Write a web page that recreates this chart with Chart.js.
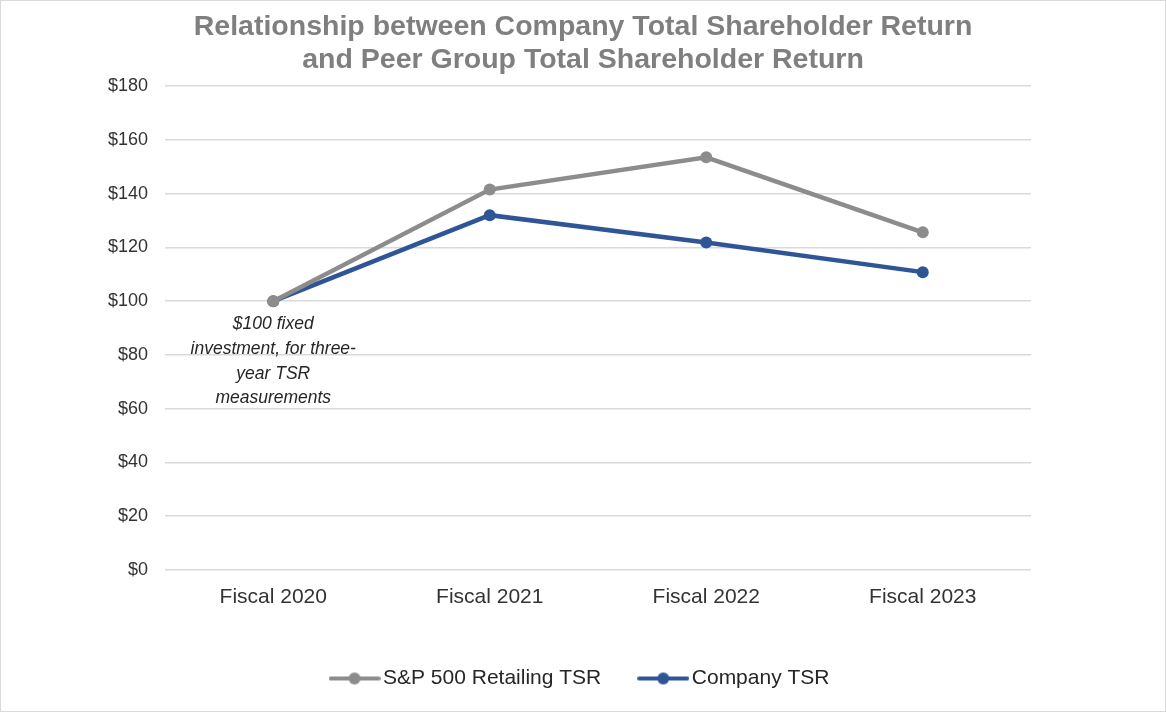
<!DOCTYPE html>
<html>
<head>
<meta charset="utf-8">
<script src="https://cdn.jsdelivr.net/npm/chart.js@4.4.1/dist/chart.umd.min.js"></script>
<style>
  html, body { margin: 0; padding: 0; background: #fff; }
  #wrap { width: 1166px; height: 712px; box-sizing: border-box; border: 1px solid #d9d9d9; }
  canvas { display: block; }
</style>
</head>
<body>
<div id="wrap"><canvas id="tsrChart" width="1164" height="710"></canvas></div>
<script>
const categories = ['Fiscal 2020', 'Fiscal 2021', 'Fiscal 2022', 'Fiscal 2023'];
const retailingTSR = [100, 141.5, 153.5, 125.6];
const companyTSR = [100, 132, 121.8, 110.8];
const titleLines = ['Relationship between Company Total Shareholder Return', 'and Peer Group Total Shareholder Return'];
const noteLines = ['$100 fixed', 'investment, for three-', 'year TSR', 'measurements'];

const grey = '#8c8c8c';
const blue = '#2f5597';
const textColor = '#333333';
const fontFamily = '"Liberation Sans", Arial, sans-serif';

function legendIcon(color) {
    let c = document.createElement('canvas');
    c.width = 52;
    c.height = 14;
    let g = c.getContext('2d');
    g.strokeStyle = color;
    g.lineWidth = 4;
    g.lineCap = 'round';
    g.beginPath();
    g.moveTo(2, 7);
    g.lineTo(50, 7);
    g.stroke();
    g.fillStyle = color;
    g.beginPath();
    g.arc(26, 7, 6, 0, Math.PI * 2);
    g.fill();
    return c;
}
const icons = [legendIcon(grey), legendIcon(blue)];

// italic note under the first point
const notePlugin = {
    id: 'note',
    afterDatasetsDraw(chart) {
        let ctx = chart.ctx;
        let x = chart.scales.x.getPixelForValue(0);
        let y = chart.scales.y.getPixelForValue(100);
        ctx.save();
        ctx.font = 'italic 17.5px ' + fontFamily;
        ctx.fillStyle = '#262626';
        ctx.textAlign = 'center';
        ctx.textBaseline = 'middle';
        noteLines.forEach((line, i) => ctx.fillText(line, x, y + 23 + i * 24.8));
        ctx.restore();
    }
};

let ctx = document.getElementById('tsrChart').getContext('2d');
new Chart(ctx, {
    type: 'line',
    data: {
        labels: categories,
        datasets: [{
            label: 'S&P 500 Retailing TSR',
            data: retailingTSR,
            borderColor: grey,
            backgroundColor: grey,
            borderWidth: 4.5,
            pointRadius: 6,
            pointHoverRadius: 6,
            pointBorderWidth: 0
        }, {
            label: 'Company TSR',
            data: companyTSR,
            borderColor: blue,
            backgroundColor: blue,
            borderWidth: 4.5,
            pointRadius: 6,
            pointHoverRadius: 6,
            pointBorderWidth: 0
        }]
    },
    options: {
        responsive: false,
        animation: false,
        layout: { padding: { left: 0, right: 0, top: 0, bottom: 12 } },
        plugins: {
            tooltip: { enabled: false },
            title: {
                display: true,
                text: titleLines,
                color: '#7f7f7f',
                font: { family: fontFamily, size: 28.5, weight: 'bold', lineHeight: 1.16 },
                padding: { top: 9.5, bottom: 9.5 }
            },
            legend: {
                position: 'bottom',
                labels: {
                    usePointStyle: true,
                    pointStyleWidth: 36,
                    padding: 44,
                    color: '#262626',
                    font: { family: fontFamily, size: 21 },
                    generateLabels(chart) {
                        let items = Chart.defaults.plugins.legend.labels.generateLabels(chart);
                        items.forEach((item, i) => { item.pointStyle = icons[i]; });
                        return items;
                    }
                }
            }
        },
        scales: {
            x: {
                offset: true,
                grid: { display: false, drawTicks: false },
                border: { display: false },
                ticks: {
                    color: textColor,
                    padding: 15,
                    font: { family: fontFamily, size: 21 }
                },
                afterFit(scale) { scale.height = 54; }
            },
            y: {
                min: 0,
                max: 180,
                grid: { color: '#d9d9d9', lineWidth: 1.5, drawTicks: false },
                border: { display: false },
                ticks: {
                    stepSize: 20,
                    color: textColor,
                    padding: 17,
                    font: { family: fontFamily, size: 18 },
                    callback: v => '$' + v
                },
                afterFit(scale) { scale.width = 164; }
            },
            // empty right-hand spacer so title and legend stay centred on the page
            spacer: {
                type: 'linear',
                position: 'right',
                grid: { display: false, drawTicks: false },
                border: { display: false },
                ticks: { display: false },
                afterFit(scale) { scale.width = 134; }
            }
        }
    },
    plugins: [notePlugin]
});
</script>
</body>
</html>
